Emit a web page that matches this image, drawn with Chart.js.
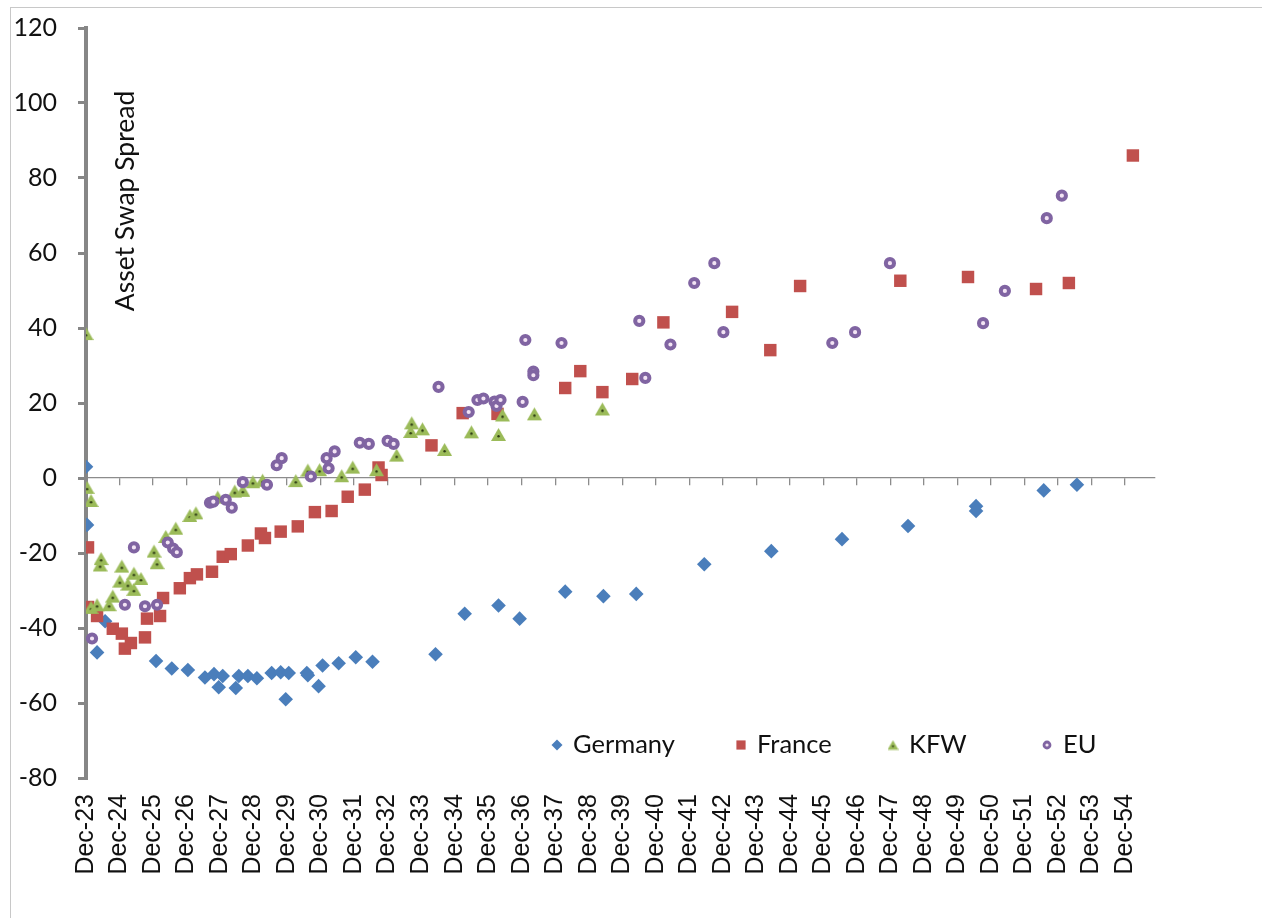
<!DOCTYPE html>
<html>
<head>
<meta charset="utf-8">
<script src="https://cdn.jsdelivr.net/npm/chart.js@4.4.1/dist/chart.umd.min.js"></script>
<style>
  html, body { margin: 0; padding: 0; background: #fff; }
</style>
</head>
<body>
<canvas id="spreadChart" width="1262" height="918"></canvas>
<script>
// x = years after Dec-23 (maturity), y = asset swap spread
const xTickLabels = ['Dec-23', 'Dec-24', 'Dec-25', 'Dec-26', 'Dec-27', 'Dec-28', 'Dec-29', 'Dec-30',
    'Dec-31', 'Dec-32', 'Dec-33', 'Dec-34', 'Dec-35', 'Dec-36', 'Dec-37', 'Dec-38', 'Dec-39', 'Dec-40',
    'Dec-41', 'Dec-42', 'Dec-43', 'Dec-44', 'Dec-45', 'Dec-46', 'Dec-47', 'Dec-48', 'Dec-49', 'Dec-50',
    'Dec-51', 'Dec-52', 'Dec-53', 'Dec-54'];

const germanyPoints = [[0.00, 3.0], [0.03, -12.5], [0.33, -46.5], [0.57, -38.2], [2.09, -48.8], [2.56, -50.8],
    [3.04, -51.2], [3.55, -53.2], [3.82, -52.3], [3.96, -55.8], [4.08, -52.8], [4.47, -56.0], [4.56, -52.8],
    [4.83, -52.8], [5.10, -53.4], [5.54, -52.0], [5.81, -51.8], [5.96, -59.0], [6.05, -52.0], [6.59, -52.0],
    [6.62, -52.6], [6.94, -55.5], [7.06, -50.0], [7.54, -49.4], [8.05, -47.8], [8.55, -49.0], [10.43, -47.0],
    [11.30, -36.2], [12.31, -34.0], [12.94, -37.5], [14.30, -30.3], [15.44, -31.5], [16.42, -30.9],
    [18.45, -23.0], [20.45, -19.5], [22.56, -16.3], [24.53, -12.8], [26.56, -7.5], [26.56, -8.8],
    [28.58, -3.3], [29.57, -1.8]];

const francePoints = [[0.06, -18.5], [0.06, -34.4], [0.33, -36.8], [0.80, -40.2], [1.07, -41.5], [1.16, -45.5],
    [1.34, -44.0], [1.76, -42.5], [1.82, -37.5], [2.21, -36.8], [2.30, -32.0], [2.80, -29.4], [3.10, -26.7],
    [3.31, -25.7], [3.76, -25.0], [4.08, -21.0], [4.32, -20.3], [4.83, -18.0], [5.22, -14.8], [5.34, -16.0],
    [5.81, -14.3], [6.32, -12.9], [6.83, -9.1], [7.33, -8.8], [7.81, -5.0], [8.32, -3.1], [8.73, 2.8],
    [8.82, 0.8], [10.31, 8.7], [11.24, 17.3], [12.28, 17.1], [14.30, 24.0], [14.75, 28.5], [15.41, 22.9],
    [16.30, 26.4], [17.23, 41.5], [19.28, 44.3], [20.42, 34.1], [21.31, 51.2], [24.30, 52.6], [26.32, 53.6],
    [28.35, 50.4], [29.33, 52.0], [31.24, 86.0]];

const kfwPoints = [[0.00, 38.5], [0.03, -2.5], [0.15, -6.0], [0.15, -34.5], [0.33, -33.8], [0.42, -23.2],
    [0.45, -21.5], [0.69, -33.8], [0.80, -31.5], [1.01, -27.5], [1.07, -23.5], [1.25, -28.3], [1.43, -25.4],
    [1.43, -29.7], [1.64, -26.8], [2.03, -19.5], [2.12, -22.6], [2.38, -15.6], [2.68, -13.4], [3.10, -10.0],
    [3.28, -9.3], [3.93, -5.1], [4.44, -3.5], [4.68, -3.3], [4.98, -1.0], [5.27, -0.6], [6.26, -0.7],
    [6.62, 2.1], [6.97, 2.2], [7.63, 0.6], [7.96, 2.9], [8.67, 2.2], [9.27, 6.1], [9.69, 12.4], [9.72, 14.7],
    [10.04, 13.1], [10.70, 7.6], [11.50, 12.3], [12.31, 11.6], [12.43, 16.8], [13.38, 17.1], [15.41, 18.4]];

const euPoints = [[0.18, -42.8], [1.16, -33.8], [1.43, -18.5], [1.76, -34.2], [2.12, -33.8], [2.44, -17.2],
    [2.60, -18.8], [2.71, -19.8], [3.70, -6.6], [3.80, -6.3], [4.17, -5.8], [4.35, -7.9], [4.68, -1.1],
    [5.40, -1.8], [5.69, 3.4], [5.84, 5.3], [6.71, 0.4], [7.18, 5.3], [7.24, 2.6], [7.42, 7.1], [8.17, 9.4],
    [8.44, 9.1], [9.00, 9.9], [9.18, 9.1], [10.52, 24.3], [11.42, 17.6], [11.68, 20.8], [11.86, 21.2],
    [12.19, 20.4], [12.25, 19.2], [12.37, 20.8], [13.03, 20.3], [13.11, 36.8], [13.35, 28.4], [13.35, 27.4],
    [14.19, 36.0], [16.51, 41.9], [16.69, 26.7], [17.44, 35.6], [18.15, 52.0], [18.75, 57.3], [19.02, 38.9],
    [22.27, 36.0], [22.95, 38.9], [23.99, 57.3], [26.77, 41.3], [27.42, 49.9], [28.67, 69.3], [29.12, 75.3]];

const yMin = -80, yMax = 120, yStep = 20;
const xMin = 0, xMax = 31.9;

const toXY = pts => pts.map(p => ({ x: p[0], y: p[1] }));

// green triangle with the small dark dot Excel puts in the middle
function makeTriangleMarker(w) {
    const c = document.createElement('canvas');
    c.width = w; c.height = w;
    const g = c.getContext('2d');
    const h = w * 0.866;
    const top = (w - h) / 2;
    g.beginPath();
    g.moveTo(w / 2, top);
    g.lineTo(w, top + h);
    g.lineTo(0, top + h);
    g.closePath();
    g.fillStyle = '#9BBB59';
    g.fill();
    g.beginPath();
    g.arc(w / 2, top + h * 0.64, Math.max(1, w * 0.08), 0, Math.PI * 2);
    g.fillStyle = '#2c3a14';
    g.fill();
    return c;
}

const triangleBig = makeTriangleMarker(15);
const triangleSmall = makeTriangleMarker(11);

const seriesStyles = [
    { label: 'Germany', data: germanyPoints, pointStyle: 'rectRot', radius: 7.3, bg: '#4A7EBB', border: '#4A7EBB', bw: 0, order: 3,
      legend: { pointStyle: 'rectRot', radius: 5.5, borderWidth: 0 } },
    { label: 'France', data: francePoints, pointStyle: 'rect', radius: 8.8, bg: '#C0504D', border: '#C0504D', bw: 0, order: 2,
      legend: { pointStyle: 'rect', radius: 6.5, borderWidth: 0 } },
    { label: 'KFW', data: kfwPoints, pointStyle: triangleBig, radius: 7.5, bg: '#9BBB59', border: '#9BBB59', bw: 0, order: 1,
      legend: { pointStyle: triangleSmall, radius: 5.5, borderWidth: 0 } },
    { label: 'EU', data: euPoints, pointStyle: 'circle', radius: 4.1, bg: '#F3E4F4', border: '#8064A2', bw: 4, order: 0,
      legend: { pointStyle: 'circle', radius: 3, borderWidth: 2.8 } }
];

const titlePlugin = {
    id: 'innerTitle',
    afterDraw(chart) {
        const ctx = chart.ctx;
        ctx.save();
        ctx.translate(chart.chartArea.left + 39, chart.chartArea.top + 173);
        ctx.rotate(-Math.PI / 2);
        ctx.font = '26.5px Lato';
        ctx.fillStyle = '#111';
        ctx.textAlign = 'center';
        ctx.textBaseline = 'middle';
        ctx.fillText('Asset Swap Spread', 0, 0);
        ctx.restore();
    }
};

// legend drawn inside the plot area, bottom right
const legendPlugin = {
    id: 'innerLegend',
    afterDraw(chart) {
        const ctx = chart.ctx;
        const y = chart.chartArea.bottom - 33;
        const markerX = [557, 741, 893, 1047];
        ctx.save();
        ctx.font = '25.5px Lato';
        ctx.textBaseline = 'middle';
        seriesStyles.forEach((s, i) => {
            ctx.fillStyle = s.bg;
            ctx.strokeStyle = s.border;
            ctx.lineWidth = s.legend.borderWidth;
            Chart.helpers.drawPoint(ctx, { pointStyle: s.legend.pointStyle, radius: s.legend.radius,
                borderWidth: s.legend.borderWidth, rotation: 0 }, markerX[i], y);
            ctx.fillStyle = '#111';
            ctx.fillText(s.label, markerX[i] + 16, y);
        });
        ctx.restore();
    }
};

const borderPlugin = {
    id: 'outerBorder',
    beforeDraw(chart) {
        const ctx = chart.ctx;
        ctx.save();
        ctx.strokeStyle = '#c8c8c8';
        ctx.lineWidth = 1;
        ctx.strokeRect(10.5, 7.5, 1262, 918);
        ctx.restore();
    }
};

const setYearTicks = scale => {
    scale.ticks = xTickLabels.map((_, i) => ({ value: i }));
};

const ctx = document.getElementById('spreadChart').getContext('2d');
new Chart(ctx, {
    type: 'scatter',
    data: {
        datasets: seriesStyles.map(s => ({
            label: s.label,
            data: toXY(s.data),
            order: s.order,
            pointStyle: s.pointStyle,
            pointRadius: s.radius,
            pointHoverRadius: s.radius,
            pointBackgroundColor: s.bg,
            pointBorderColor: s.border,
            pointBorderWidth: s.bw,
            showLine: false
        }))
    },
    options: {
        responsive: false,
        devicePixelRatio: 1,
        animation: false,
        layout: { padding: { top: 28, right: 107, bottom: 0, left: 0 } },
        plugins: {
            legend: { display: false },
            tooltip: { enabled: false }
        },
        scales: {
            x: {
                type: 'linear',
                position: 'bottom',
                min: xMin,
                max: xMax,
                afterBuildTicks: setYearTicks,
                afterFit: scale => { scale.height = 140; },
                grid: { display: false, drawTicks: false },
                border: { display: false },
                ticks: {
                    autoSkip: false,
                    minRotation: 90,
                    maxRotation: 90,
                    padding: 16,
                    color: '#111',
                    font: { family: 'Liberation Sans', size: 25 },
                    callback: v => xTickLabels[v]
                }
            },
            x2: {
                type: 'linear',
                axis: 'x',
                position: { y: 0 },
                min: xMin,
                max: xMax,
                afterBuildTicks: setYearTicks,
                grid: { drawOnChartArea: false, drawTicks: true, tickLength: 7, color: '#8c8c8c', lineWidth: 1.3 },
                border: { color: '#8c8c8c', width: 1.3 },
                ticks: { display: false }
            },
            y: {
                min: yMin,
                max: yMax,
                afterFit: scale => {
                    scale.width = 86;
                    // keep the label padding from pushing the plot area down
                    scale.paddingTop = 0;
                    scale.paddingBottom = 0;
                },
                grid: { drawOnChartArea: false, tickLength: 8, color: '#868686', lineWidth: 3 },
                border: { color: '#868686', width: 4 },
                ticks: {
                    stepSize: yStep,
                    padding: 21,
                    color: '#111',
                    font: { family: 'Lato', size: 25 }
                }
            }
        }
    },
    plugins: [borderPlugin, titlePlugin, legendPlugin]
});
</script>
</body>
</html>
